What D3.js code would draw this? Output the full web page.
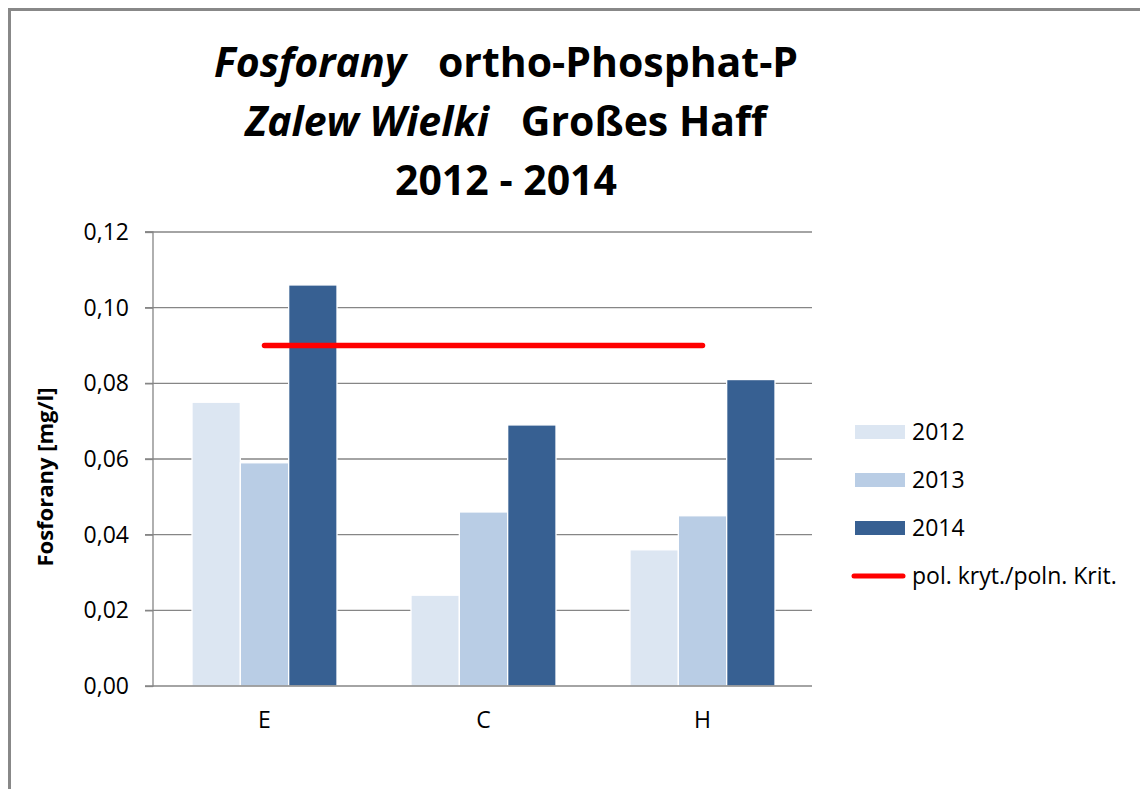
<!DOCTYPE html>
<html>
<head>
<meta charset="utf-8">
<script src="https://cdn.jsdelivr.net/npm/d3@7"></script>
<style>
  body { margin: 0; background: #fff; }
  svg { display: block; font-family: "Open Sans", sans-serif; }
</style>
</head>
<body>
<svg width="1140" height="789"></svg>
<script>
const stations = ["E", "C", "H"]
const years = ["2012", "2013", "2014"]
const values2012 = [0.075, 0.024, 0.036]
const values2013 = [0.059, 0.046, 0.045]
const values2014 = [0.106, 0.069, 0.081]
const criterion = 0.09
const criterionLabel = "pol. kryt./poln. Krit."
const yTicks = [0, 0.02, 0.04, 0.06, 0.08, 0.10, 0.12]
const colors = ["#DCE6F2", "#B9CDE5", "#376092"]

const series = [values2012, values2013, values2014]
const rows = stations.map((s, i) => ({ station: s, vals: years.map((y, j) => ({ year: y, value: series[j][i], k: j })) }))

const svg = d3.select("svg")

// outer frame (top + left only visible)
svg.append("path")
  .attr("d", "M9.5,789 L9.5,9.5 L1140,9.5")
  .attr("fill", "none")
  .attr("stroke", "#888")
  .attr("stroke-width", 3)

// title
const title = svg.append("text")
  .attr("text-anchor", "middle")
  .attr("font-weight", "bold")
  .attr("font-size", 41)
  .style("white-space", "pre")
const l1 = title.append("tspan").attr("x", 506).attr("y", 77)
l1.append("tspan").attr("font-style", "italic").text("Fosforany")
l1.append("tspan").text("   ortho-Phosphat-P")
const l2 = title.append("tspan").attr("x", 506).attr("y", 136)
l2.append("tspan").attr("font-style", "italic").text("Zalew Wielki")
l2.append("tspan").text("   Großes Haff")
title.append("tspan").attr("x", 506).attr("y", 195).text("2012 - 2014")

const x0 = d3.scaleBand()
  .domain(stations)
  .range([155, 812])

const x1 = d3.scaleBand()
  .domain(years)
  .range([0, 145])

const y = d3.scaleLinear()
  .domain([0, 0.12])
  .range([686, 232])

// gridlines
svg.append("g")
  .selectAll("line")
  .data(yTicks.slice(1))
  .enter()
  .append("line")
  .attr("x1", 145)
  .attr("x2", 812)
  .attr("y1", d => y(d))
  .attr("y2", d => y(d))
  .attr("stroke", "#868686")
  .attr("stroke-width", 1.3)

// bars
const groups = svg.selectAll("g.station")
  .data(rows)
  .enter()
  .append("g")
  .attr("class", "station")
  .attr("transform", d => `translate(${x0(d.station) + (x0.bandwidth() - 145) / 2}, 0)`)

groups.selectAll("rect")
  .data(d => d.vals)
  .enter()
  .append("rect")
  .attr("x", d => x1(d.year))
  .attr("y", d => y(d.value))
  .attr("width", x1.bandwidth())
  .attr("height", d => y(0) - y(d.value))
  .attr("fill", d => colors[d.k])
  .attr("stroke", "#fff")
  .attr("stroke-width", 1.3)

// y axis
const yAxis = svg.append("g")
  .attr("transform", "translate(153,0)")
  .call(d3.axisLeft(y).tickValues(yTicks).tickSize(8).tickPadding(16)
    .tickFormat(d => d3.format(".2f")(d).replace(".", ",")))
yAxis.select(".domain").attr("stroke", "#868686").attr("stroke-width", 1.3).attr("d", "M-8,686H0V232H-8")
yAxis.selectAll(".tick line").attr("stroke", "#868686").attr("stroke-width", 1.3)
yAxis.selectAll(".tick text")
  .attr("font-family", "Open Sans, sans-serif")
  .attr("font-size", 23)
  .attr("fill", "#000")

// x axis baseline
svg.append("line")
  .attr("x1", 153)
  .attr("x2", 812)
  .attr("y1", y(0))
  .attr("y2", y(0))
  .attr("stroke", "#868686")
  .attr("stroke-width", 1.3)

svg.append("g")
  .selectAll("text")
  .data(stations)
  .enter()
  .append("text")
  .attr("x", d => x0(d) + x0.bandwidth() / 2)
  .attr("y", 728)
  .attr("text-anchor", "middle")
  .attr("font-size", 23)
  .text(d => d)

// criterion line
svg.append("line")
  .attr("x1", x0("E") + x0.bandwidth() / 2)
  .attr("x2", x0("H") + x0.bandwidth() / 2)
  .attr("y1", y(criterion))
  .attr("y2", y(criterion))
  .attr("stroke", "#FF0000")
  .attr("stroke-width", 5.5)
  .attr("stroke-linecap", "round")

// y label
svg.append("text")
  .attr("transform", "translate(53,477) rotate(-90)")
  .attr("text-anchor", "middle")
  .attr("font-weight", "bold")
  .attr("font-size", 22)
  .text("Fosforany [mg/l]")

// legend
const legendY = d3.scalePoint()
  .domain([...years, criterionLabel])
  .range([432, 576])

const legend = svg.append("g")
years.forEach((yr, i) => {
  legend.append("rect")
    .attr("x", 855)
    .attr("y", legendY(yr) - 7)
    .attr("width", 50)
    .attr("height", 14)
    .attr("fill", colors[i])
  legend.append("text")
    .attr("x", 912)
    .attr("y", legendY(yr))
    .attr("dy", "0.35em")
    .attr("font-size", 23)
    .text(yr)
})
legend.append("line")
  .attr("x1", 854)
  .attr("x2", 903)
  .attr("y1", legendY(criterionLabel))
  .attr("y2", legendY(criterionLabel))
  .attr("stroke", "#FF0000")
  .attr("stroke-width", 5)
  .attr("stroke-linecap", "round")
legend.append("text")
  .attr("x", 912)
  .attr("y", legendY(criterionLabel))
  .attr("dy", "0.35em")
  .attr("font-size", 23)
  .text(criterionLabel)
</script>
</body>
</html>
